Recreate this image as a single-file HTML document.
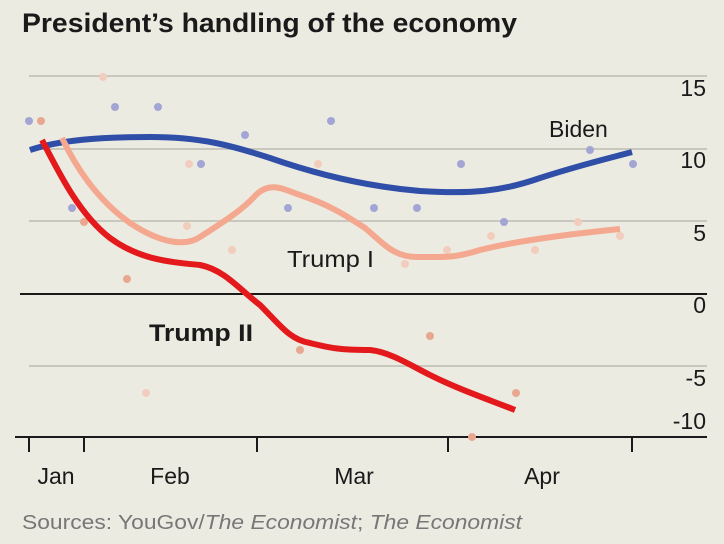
<!DOCTYPE html>
<html><head><style>
body{margin:0;background:#ecebe1;}
svg{display:block;font-family:"Liberation Sans",sans-serif;}
</style></head><body>
<svg width="724" height="544" viewBox="0 0 724 544">
<rect width="724" height="544" fill="#ecebe1"/>
<text x="22" y="32" font-size="27" font-weight="bold" fill="#1a1a1a" textLength="495" lengthAdjust="spacingAndGlyphs">President’s handling of the economy</text>
<g stroke="#c9c8bf" stroke-width="2">
<line x1="29" x2="707" y1="76" y2="76"/>
<line x1="29" x2="707" y1="149" y2="149"/>
<line x1="29" x2="707" y1="221" y2="221"/>
<line x1="29" x2="707" y1="366" y2="366"/>
</g>
<line x1="20" x2="707" y1="294" y2="294" stroke="#1a1a1a" stroke-width="2"/>
<line x1="15" x2="707" y1="437" y2="437" stroke="#1a1a1a" stroke-width="2"/>
<g stroke="#1a1a1a" stroke-width="2">
<line x1="29" x2="29" y1="437" y2="452"/><line x1="84" x2="84" y1="437" y2="452"/>
<line x1="257" x2="257" y1="437" y2="452"/><line x1="448" x2="448" y1="437" y2="452"/>
<line x1="632" x2="632" y1="437" y2="452"/>
</g>
<g font-size="23" fill="#1a1a1a" text-anchor="end">
<text x="706" y="96">15</text><text x="706" y="168">10</text><text x="706" y="241">5</text>
<text x="706" y="313">0</text><text x="706" y="386">-5</text><text x="706" y="429">-10</text>
</g>
<g font-size="23" fill="#1a1a1a" text-anchor="middle">
<text x="56" y="484">Jan</text><text x="170" y="484">Feb</text><text x="354" y="484">Mar</text><text x="542" y="484">Apr</text>
</g>
<text x="22" y="529" font-size="20" fill="#777" textLength="500" lengthAdjust="spacingAndGlyphs">Sources: YouGov/<tspan font-style="italic">The Economist</tspan>; <tspan font-style="italic">The Economist</tspan></text>
<g fill="#a3a6d4">
<circle cx="29" cy="121" r="4"/><circle cx="115" cy="107" r="4"/><circle cx="158" cy="107" r="4"/><circle cx="72" cy="208" r="4"/><circle cx="201" cy="164" r="4"/><circle cx="245" cy="135" r="4"/><circle cx="288" cy="208" r="4"/><circle cx="331" cy="121" r="4"/><circle cx="374" cy="208" r="4"/><circle cx="417" cy="208" r="4"/><circle cx="461" cy="164" r="4"/><circle cx="504" cy="222" r="4"/><circle cx="590" cy="150" r="4"/><circle cx="633" cy="164" r="4"/>
</g>
<g fill="#e8a890">
<circle cx="41" cy="121" r="4"/><circle cx="84" cy="222" r="4"/><circle cx="127" cy="279" r="4"/><circle cx="300" cy="350" r="4"/><circle cx="430" cy="336" r="4"/><circle cx="472" cy="437" r="4"/><circle cx="516" cy="393" r="4"/>
</g>
<g fill="#f2cdbd">
<circle cx="103" cy="77" r="4"/><circle cx="146" cy="393" r="4"/><circle cx="189" cy="164" r="4"/><circle cx="232" cy="250" r="4"/><circle cx="318" cy="164" r="4"/><circle cx="187" cy="226" r="4"/><circle cx="447" cy="250" r="4"/><circle cx="491" cy="236" r="4"/><circle cx="535" cy="250" r="4"/><circle cx="578" cy="222" r="4"/><circle cx="620" cy="236" r="4"/><circle cx="405" cy="264" r="4"/>
</g>
<g fill="none" stroke-linecap="butt" stroke-linejoin="round" stroke-width="6">
<path stroke="#2f4ea8" d="M30,150 C60,140 100,137 150,137 C200,137 230,145 270,158 C310,172 360,186 420,191 C470,194 500,192 540,178 C580,165 610,158 632,152"/>
<path stroke="#f4a88f" d="M62,138 C75,165 95,198 130,223 C160,243 185,247 200,237 C220,224 240,212 255,196 C270,180 285,190 300,195 C330,205 345,215 365,228 C385,245 395,258 420,257 C445,257 455,258 480,250 C520,240 580,233 620,229"/>
<path stroke="#e3191c" d="M42,140 C60,175 80,215 110,238 C140,260 170,262 200,265 C225,270 240,290 260,305 C280,325 290,340 310,343 C330,348 340,350 370,350 C390,352 410,365 430,375 C460,390 490,400 515,410"/>
</g>
<text x="549" y="137" font-size="23" fill="#1a1a1a">Biden</text>
<text x="287" y="267" font-size="23" fill="#1a1a1a" textLength="87" lengthAdjust="spacingAndGlyphs">Trump I</text>
<text x="149" y="341" font-size="24" font-weight="bold" fill="#1a1a1a" textLength="104" lengthAdjust="spacingAndGlyphs">Trump II</text>
</svg>
</body></html>
